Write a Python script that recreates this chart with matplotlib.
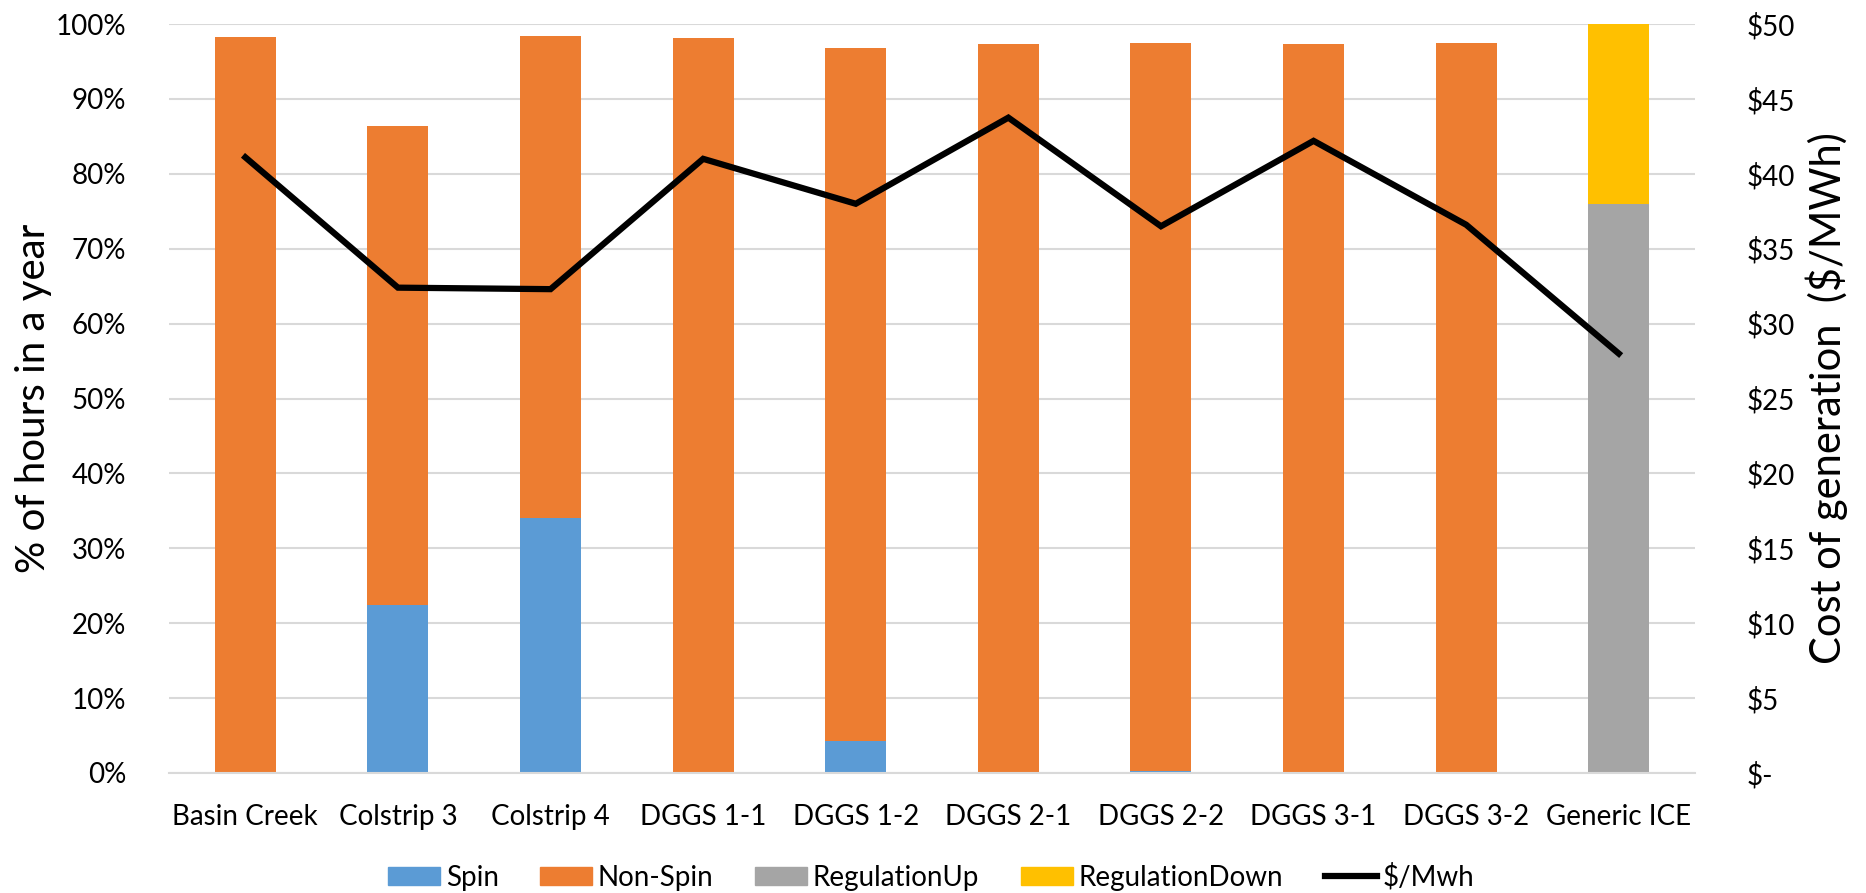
import matplotlib
matplotlib.use("Agg")
import matplotlib.pyplot as plt
from matplotlib.ticker import FuncFormatter, MultipleLocator
from matplotlib.patches import Patch
from matplotlib.lines import Line2D
import numpy as np

categories = ["Basin Creek", "Colstrip 3", "Colstrip 4", "DGGS 1-1", "DGGS 1-2",
              "DGGS 2-1", "DGGS 2-2", "DGGS 3-1", "DGGS 3-2", "Generic ICE"]
spin = [0.0, 22.4, 34.0, 0.0, 4.3, 0.0, 0.3, 0.0, 0.0, 0.0]
non_spin = [98.3, 64.0, 64.4, 98.1, 92.5, 97.3, 97.2, 97.3, 97.4, 0.0]
reg_up = [0, 0, 0, 0, 0, 0, 0, 0, 0, 76.0]
reg_down = [0, 0, 0, 0, 0, 0, 0, 0, 0, 24.0]
cost = [41.1, 32.4, 32.3, 41.0, 38.0, 43.75, 36.5, 42.2, 36.6, 28.0]

plt.rcParams['font.family'] = ['Lato', 'DejaVu Sans']

fig = plt.figure(figsize=(18.66, 8.93), dpi=100)
ax = fig.add_axes([0.0906, 0.1344, 0.8178, 0.8387])
ax2 = ax.twinx()

x = np.arange(len(categories))
w = 0.4
c_spin, c_ns, c_up, c_dn = "#5B9BD5", "#ED7D31", "#A5A5A5", "#FFC000"
b1 = np.array(spin)
b2 = b1 + np.array(non_spin)
b3 = b2 + np.array(reg_up)
ax.bar(x, spin, w, color=c_spin, zorder=2)
ax.bar(x, non_spin, w, bottom=b1, color=c_ns, zorder=2)
ax.bar(x, reg_up, w, bottom=b2, color=c_up, zorder=2)
ax.bar(x, reg_down, w, bottom=b3, color=c_dn, zorder=2)

ax.set_xlim(-0.5, len(categories) - 0.5)
ax.set_ylim(0, 100)
ax.yaxis.set_major_locator(MultipleLocator(10))
ax.yaxis.set_major_formatter(FuncFormatter(lambda v, p: f"{v:.0f}%"))
ax.grid(axis='y', color="#D9D9D9", linewidth=1.5, zorder=0)
ax.set_axisbelow(True)
for s in ["top", "left", "right"]:
    ax.spines[s].set_visible(False)
ax.spines["bottom"].set_color("#D9D9D9")
ax.spines["bottom"].set_linewidth(1.5)
ax.set_xticks(x)
ax.set_xticklabels(categories)
ax.tick_params(axis='both', length=0, labelsize=20, colors="black")
ax.tick_params(axis='y', pad=31)
ax.tick_params(axis='x', pad=22)

ax2.plot(x, cost, color="black", linewidth=4.5, zorder=3, solid_joinstyle='miter')
ax2.set_ylim(0, 50)
ax2.yaxis.set_major_locator(MultipleLocator(5))
ax2.yaxis.set_major_formatter(FuncFormatter(lambda v, p: "$-" if v == 0 else f"${v:.0f}"))
ax2.tick_params(axis='y', length=0, labelsize=20, pad=37)
for s in ["top", "left", "right", "bottom"]:
    ax2.spines[s].set_visible(False)

fig.text(0.0177, 0.554, "% of hours in a year", rotation=90, ha="center", va="center", fontsize=29)
fig.text(0.979, 0.554, "Cost of generation  ($/MWh)", rotation=90, ha="center", va="center", fontsize=30)

handles = [Patch(color=c_spin, label="Spin"), Patch(color=c_ns, label="Non-Spin"),
           Patch(color=c_up, label="RegulationUp"), Patch(color=c_dn, label="RegulationDown"),
           Line2D([0], [0], color="black", linewidth=4.5, label="$/Mwh")]
fig.legend(handles=handles, loc="center", bbox_to_anchor=(0.499, 0.018), ncol=5,
           frameon=False, fontsize=20, handlelength=1.87, handleheight=0.65,
           columnspacing=1.5, handletextpad=0.2)

fig.savefig("out.png", dpi=100)
